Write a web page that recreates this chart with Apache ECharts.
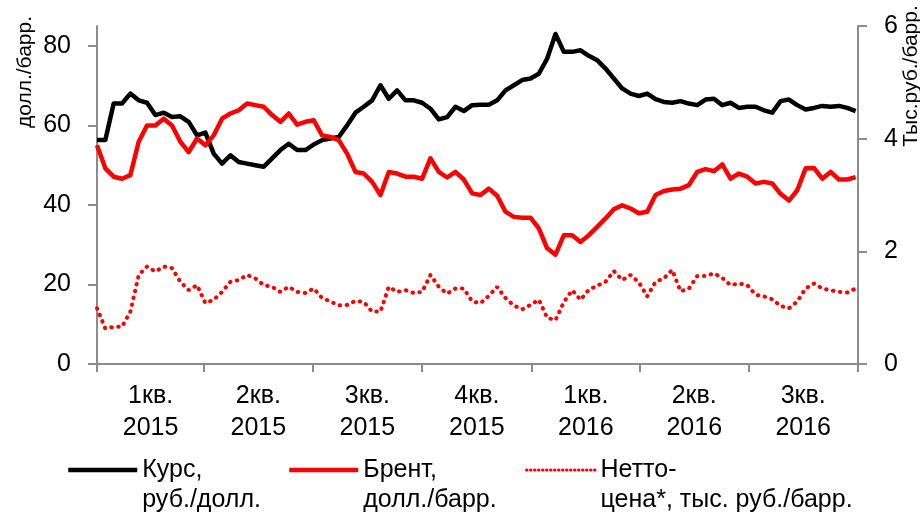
<!DOCTYPE html>
<html>
<head>
<meta charset="utf-8">
<script src="https://cdn.jsdelivr.net/npm/echarts@6/dist/echarts.min.js"></script>
<style>
  html, body { margin: 0; padding: 0; background: #fff; }
  #chart { width: 920px; height: 519px; }
</style>
</head>
<body>
<div id="chart"></div>
<script>
// weekly readings, starting 1 Jan 2015 (day offsets 0, 7, 14, ...)
var kurs = [
  56.3, 56.3, 65.5, 65.5, 68.0, 66.3, 65.7, 62.6, 63.2, 62.1, 62.3, 60.9, 57.5, 58.2, 52.9, 50.4, 52.5, 50.8, 50.4, 50.0, 49.6, 51.7, 53.8, 55.4,
  53.8, 53.8, 55.2, 56.3, 56.7, 57.1, 60.0, 63.2, 64.7, 66.3, 70.1, 66.7, 68.8, 66.3, 66.3, 65.7, 64.2, 61.5, 62.1, 64.7, 63.6, 65.1,
  65.2, 65.2, 66.3, 68.8, 70.1, 71.4, 71.8, 73.0, 76.8, 83.0, 78.5, 78.5, 78.9, 77.5, 76.4, 74.3, 71.8, 69.3, 68.0, 67.4, 68.0, 66.6, 65.9,
  65.7, 66.1, 65.5, 65.1, 66.5, 66.7, 65.1, 65.7, 64.4, 64.7, 64.7, 63.8, 63.2, 66.1, 66.5, 65.1, 64.0, 64.4, 64.9, 64.7, 64.9, 64.4, 63.6
];
var brent = [
  55.0, 49.2, 47.1, 46.6, 47.5, 55.9, 60.0, 60.0, 61.7, 60.0, 55.9, 53.3, 56.7, 55.0, 57.5, 61.7, 63.0, 63.8, 65.5, 65.1, 64.7, 62.6, 60.9, 63.0,
  60.2, 60.9, 61.3, 57.5, 57.1, 56.3, 52.9, 48.3, 47.9, 45.8, 42.5, 48.3, 47.9, 47.1, 47.1, 46.6, 51.7, 48.3, 46.9, 48.3, 46.4, 42.9,
  42.5, 44.1, 42.3, 38.3, 37.0, 36.8, 36.8, 34.1, 29.1, 27.5, 32.4, 32.4, 30.7, 32.4, 34.5, 36.6, 38.9, 39.9, 39.1, 37.9, 38.3, 42.5, 43.5,
  43.9, 44.1, 45.0, 48.3, 49.0, 48.5, 50.2, 46.6, 47.9, 47.1, 45.4, 45.8, 45.4, 42.8, 41.1, 43.7, 49.2, 49.3, 46.6, 48.3, 46.4, 46.4, 47.0
];
var netto = [
  0.99, 0.63, 0.66, 0.66, 0.93, 1.58, 1.73, 1.64, 1.73, 1.70, 1.46, 1.31, 1.40, 1.08, 1.14, 1.28, 1.46, 1.49, 1.58, 1.52, 1.40, 1.37, 1.28, 1.37,
  1.28, 1.26, 1.34, 1.17, 1.11, 1.04, 1.05, 1.12, 1.10, 0.93, 0.93, 1.37, 1.28, 1.31, 1.26, 1.28, 1.58, 1.37, 1.25, 1.34, 1.34, 1.11,
  1.08, 1.21, 1.37, 1.17, 1.04, 0.97, 1.05, 1.14, 0.82, 0.78, 1.10, 1.31, 1.14, 1.32, 1.39, 1.46, 1.65, 1.49, 1.58, 1.45, 1.20, 1.46, 1.52,
  1.67, 1.29, 1.34, 1.56, 1.56, 1.61, 1.53, 1.40, 1.43, 1.40, 1.23, 1.20, 1.15, 1.03, 0.99, 1.11, 1.34, 1.43, 1.34, 1.31, 1.28, 1.27, 1.34
];
var days = kurs.map(function (_, i) { return i * 7; });

var quarterTicks = [0, 90, 181, 273, 365, 456, 547, 639];
var quarterMids = [45, 135.5, 227, 319, 410.5, 501.5, 593];
var quarterLabels = ['1кв.\n2015', '2кв.\n2015', '3кв.\n2015', '4кв.\n2015', '1кв.\n2016', '2кв.\n2016', '3кв.\n2016'];
var leftTicks = [0, 20, 40, 60, 80];

var nameKurs = 'Курс,\nруб./долл.';
var nameBrent = 'Брент,\nдолл./барр.';
var nameNetto = 'Нетто-\nцена*, тыс. руб./барр.';

var FONT = '"Liberation Sans", Arial, sans-serif';
var AXIS_GRAY = '#8c8c8c';

function pairs(vals) {
  return vals.map(function (v, i) { return [days[i], v]; });
}

var chart = echarts.init(document.getElementById('chart'));

var legendBase = {
  orient: 'horizontal',
  padding: 0,
  itemWidth: 69,
  itemHeight: 14,
  itemGap: 0,
  top: 425,
  selectedMode: false,
  itemStyle: { opacity: 0 },
  // blank first line so the first real line sits level with the icon
  formatter: function (name) { return ' \n' + name; },
  textStyle: { fontFamily: FONT, fontSize: 25, color: '#000', lineHeight: 30 }
};

var option = {
  animation: false,
  textStyle: { fontFamily: FONT },
  grid: { left: 97, right: 62, top: 26, bottom: 155, containLabel: false },
  legend: [
    Object.assign({}, legendBase, { left: 66, data: [nameKurs], lineStyle: { width: 4.5, opacity: 1 } }),
    Object.assign({}, legendBase, { left: 287, data: [nameBrent], lineStyle: { width: 4.5, opacity: 1 } }),
    Object.assign({}, legendBase, { left: 525, data: [nameNetto], lineStyle: { width: 3, type: [0.5, 3.5], cap: 'round', opacity: 1 } })
  ],
  xAxis: {
    type: 'value',
    min: 0,
    max: 639,
    axisLine: { lineStyle: { color: AXIS_GRAY, width: 2 } },
    axisTick: { show: true, length: 8, customValues: quarterTicks, lineStyle: { color: AXIS_GRAY, width: 2 } },
    splitLine: { show: false },
    axisLabel: {
      customValues: quarterMids,
      margin: 16,
      fontSize: 25,
      lineHeight: 32,
      color: '#000',
      fontFamily: FONT,
      formatter: function (v) {
        var k = quarterMids.indexOf(v);
        return k >= 0 ? quarterLabels[k] : '';
      }
    }
  },
  yAxis: [
    {
      type: 'value',
      min: 0,
      max: 85,
      position: 'left',
      axisLine: { show: true, lineStyle: { color: AXIS_GRAY, width: 2 } },
      axisTick: { show: true, length: 9, customValues: leftTicks, lineStyle: { color: AXIS_GRAY, width: 2 } },
      splitLine: { show: false },
      axisLabel: { customValues: leftTicks, margin: 26, fontSize: 25, color: '#000', fontFamily: FONT }
    },
    {
      type: 'value',
      min: 0,
      max: 6,
      interval: 2,
      position: 'right',
      axisLine: { show: true, lineStyle: { color: AXIS_GRAY, width: 2 } },
      axisTick: { show: true, length: 9, lineStyle: { color: AXIS_GRAY, width: 2 } },
      splitLine: { show: false },
      axisLabel: { margin: 26, fontSize: 25, color: '#000', fontFamily: FONT }
    }
  ],
  graphic: [
    {
      type: 'text', x: 25, y: 72, rotation: Math.PI / 2,
      style: { text: 'долл./барр.', fontSize: 21, fontFamily: FONT, fill: '#000', align: 'center', verticalAlign: 'middle' }
    },
    {
      type: 'text', x: 911, y: 76, rotation: Math.PI / 2,
      style: { text: 'Тыс.руб./барр.', fontSize: 21, fontFamily: FONT, fill: '#000', align: 'center', verticalAlign: 'middle' }
    }
  ],
  series: [
    {
      name: nameKurs, type: 'line', yAxisIndex: 0, showSymbol: false, symbol: 'none',
      lineStyle: { color: '#000', width: 4.5, join: 'round' }, itemStyle: { color: '#000' },
      data: pairs(kurs)
    },
    {
      name: nameBrent, type: 'line', yAxisIndex: 0, showSymbol: false, symbol: 'none',
      lineStyle: { color: '#ff0000', width: 4.5, join: 'round' }, itemStyle: { color: '#ff0000' },
      data: pairs(brent)
    },
    {
      name: nameNetto, type: 'line', yAxisIndex: 1, showSymbol: false, symbol: 'none',
      lineStyle: { color: '#ff0000', width: 4, type: [0.5, 6.5], cap: 'round' }, itemStyle: { color: '#ff0000' },
      data: pairs(netto)
    }
  ]
};

chart.setOption(option);
</script>
</body>
</html>
